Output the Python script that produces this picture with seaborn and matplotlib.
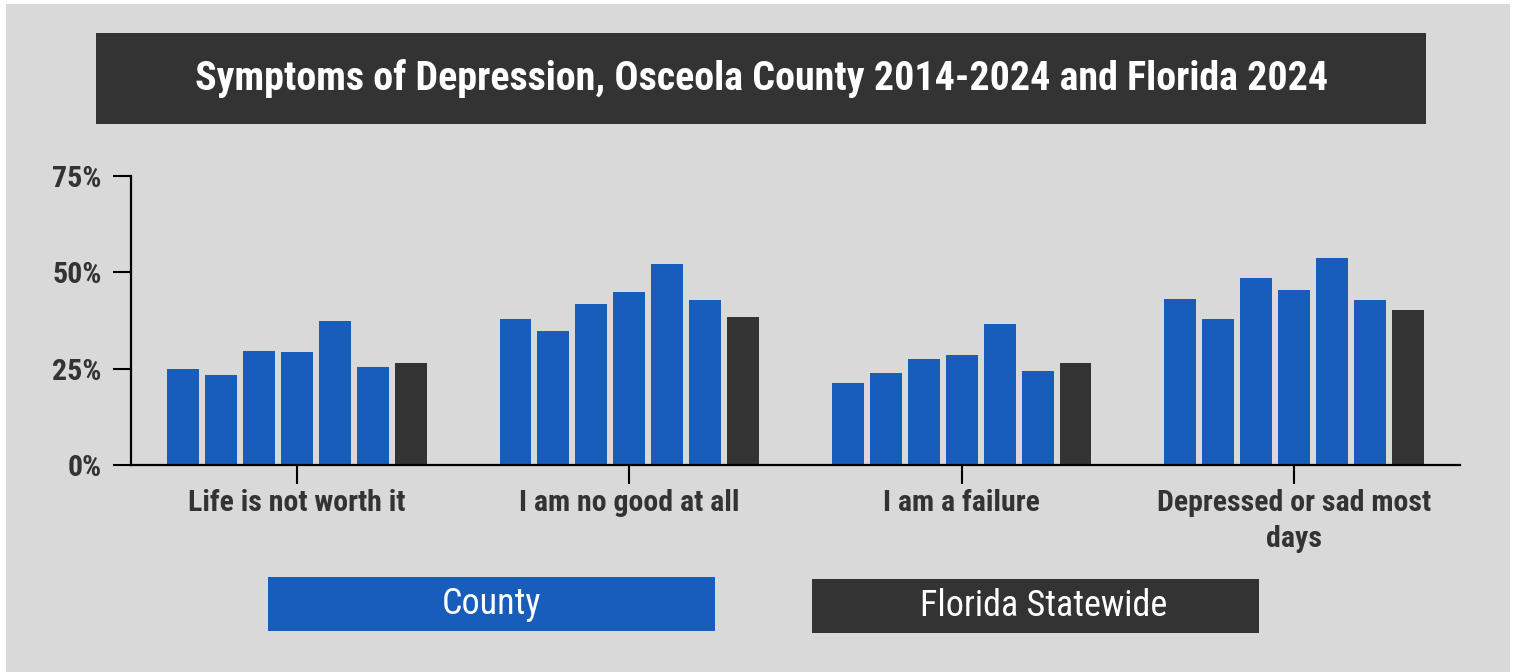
import matplotlib
matplotlib.use("Agg")
import matplotlib.pyplot as plt
from matplotlib import font_manager
from matplotlib.patches import Rectangle
import seaborn as sns
import pandas as pd

# data
symptoms = ["Life is not worth it", "I am no good at all", "I am a failure",
            "Depressed or sad most\ndays"]
series = ["2014", "2016", "2018", "2020", "2022", "2024", "Florida 2024"]
life_not_worth = [25.0, 23.4, 29.7, 29.2, 37.5, 25.5, 26.6]
no_good = [38.0, 34.9, 41.7, 44.8, 52.1, 42.7, 38.5]
failure = [21.4, 24.0, 27.6, 28.6, 36.5, 24.5, 26.6]
depressed = [43.2, 38.0, 48.4, 45.3, 53.6, 42.7, 40.1]
yticks = [0, 25, 50, 75]
legend_labels = ["County", "Florida Statewide"]

BLUE = "#185dba"
DARK = "#333333"
BG = "#d9d9d9"

names = {f.name for f in font_manager.fontManager.ttflist}
if "Roboto Condensed" in names:
    FONT = "Roboto Condensed"
    scale = 1.0
else:
    FONT = "Roboto"
    scale = 0.85

rows = []
for sym, vals in zip(symptoms, [life_not_worth, no_good, failure, depressed]):
    for s, v in zip(series, vals):
        rows.append({"symptom": sym, "series": s, "value": v})
df = pd.DataFrame(rows)

palette = {s: BLUE for s in series[:-1]}
palette[series[-1]] = DARK

sns.set_theme(style="white")
plt.rcParams["font.family"] = [FONT, "DejaVu Sans"]

fig = plt.figure(figsize=(15.17, 6.72), dpi=100)
fig.patch.set_facecolor("white")
# grey panel
fig.patches.append(Rectangle((6 / 1517, 0), 1504 / 1517, 668 / 672,
                             transform=fig.transFigure, facecolor=BG,
                             edgecolor="none", zorder=-10))

ax = fig.add_axes([131 / 1517, 1 - 465 / 672, 1329 / 1517, 289 / 672])
ax.set_facecolor(BG)
sns.barplot(data=df, x="symptom", y="value", hue="series", palette=palette,
            width=0.8, gap=0.16, saturation=1, linewidth=0, legend=False, ax=ax)

ax.set_xlim(-0.5, 3.5)
ax.set_ylim(0, 75)
ax.set_yticks(yticks)
ax.set_yticklabels([f"{t}%" for t in yticks])
ax.set_xlabel("")
ax.set_ylabel("")
for side in ["top", "right"]:
    ax.spines[side].set_visible(False)
for side in ["left", "bottom"]:
    ax.spines[side].set_color("black")
    ax.spines[side].set_linewidth(1.6)
ax.tick_params(axis="y", length=13, width=1.5, color="black", pad=8,
               left=True)
ax.tick_params(axis="x", length=14, width=1.5, color="black", pad=3,
               bottom=True)
for lab in ax.get_yticklabels() + ax.get_xticklabels():
    lab.set_fontsize(21.5 * scale)
    lab.set_fontweight("bold")
    lab.set_color(DARK)
    lab.set_linespacing(1.4)

# title banner
fig.patches.append(Rectangle((96 / 1517, 1 - 124 / 672), 1330 / 1517, 91 / 672,
                             transform=fig.transFigure, facecolor=DARK,
                             edgecolor="none"))
fig.text(762 / 1517, 1 - 79 / 672,
         "Symptoms of Depression, Osceola County 2014-2024 and Florida 2024",
         ha="center", va="center", color="white", fontsize=28.8 * scale,
         fontweight="bold")

# legend boxes
for label, color, x0, y0, tx in zip(legend_labels, [BLUE, DARK], [268, 812],
                                    [577, 579], [491, 1044]):
    fig.patches.append(Rectangle((x0 / 1517, 1 - (y0 + 54) / 672), 447 / 1517, 54 / 672,
                                 transform=fig.transFigure, facecolor=color,
                                 edgecolor="none"))
    fig.text(tx / 1517, 1 - (y0 + 27) / 672, label, ha="center",
             va="center", color="white", fontsize=26 * scale)

fig.savefig("out.png", dpi=100, facecolor=fig.get_facecolor())
